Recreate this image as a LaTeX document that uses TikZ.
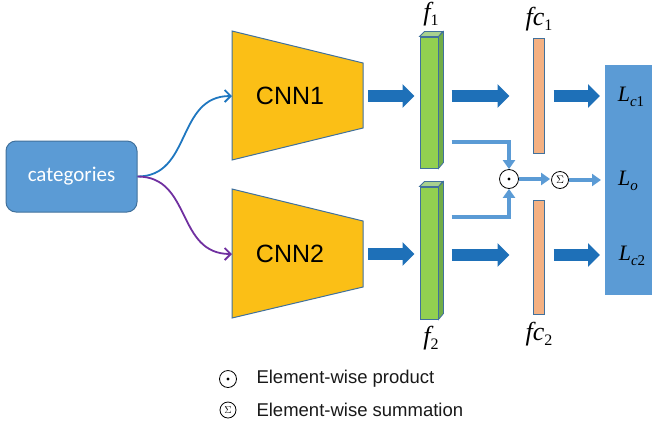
\documentclass[tikz,border=0pt]{standalone}
\usepackage{fontspec}
\setmainfont{Liberation Sans}
\newfontfamily\tnr{Liberation Serif}
\newfontfamily\calib{Carlito}
\usetikzlibrary{arrows.meta}
\definecolor{cnnY}{HTML}{FBBF16}
\definecolor{bord}{HTML}{41719C}
\definecolor{fatB}{HTML}{1E70B8}
\definecolor{thinB}{HTML}{5B9BD5}
\definecolor{boxB}{HTML}{5B9BD5}
\definecolor{grF}{HTML}{92D050}
\definecolor{grS}{HTML}{70AD47}
\definecolor{grT}{HTML}{A9D18E}
\definecolor{orF}{HTML}{F4B183}
\definecolor{curveB}{HTML}{1F77C0}
\definecolor{curveP}{HTML}{7030A0}
\tikzset{
  fat/.style={draw=fatB, line width=12pt, -{Triangle[length=12pt,width=23pt]}},
  thinarr/.style={draw=thinB, line width=3.5pt, -{Triangle[length=9pt,width=12pt]}},
  cnnbox/.style={draw=bord, line width=1pt, fill=cnnY},
  cnntext/.style={font=\fontsize{25}{25}\selectfont},
  barfront/.style={draw=bord, line width=1pt, fill=grF, minimum width=18pt, inner sep=0pt},
  barside/.style={draw=bord, line width=0.8pt, fill=grS},
  bartop/.style={draw=bord, line width=0.8pt, fill=grT},
  fcbar/.style={draw=bord, line width=1pt, fill=orF, minimum width=11pt, inner sep=0pt},
  opcirc/.style={circle, draw=black, line width=0.8pt, fill=white, inner sep=0pt},
  curve/.style={line width=1.8pt, -{Straight Barb[length=6pt,width=12pt]}},
  lossl/.style={font=\tnr\fontsize{22}{22}\selectfont\itshape},
  flabel/.style={font=\tnr\fontsize{26}{26}\selectfont\itshape},
  legtext/.style={anchor=west, font=\fontsize{18.5}{18.5}\selectfont, text=black!90},
}
\newcommand\lowsub[1]{\raisebox{-5pt}{\fontsize{16}{16}\selectfont #1}}
\newcommand\lowsubs[1]{\raisebox{-5pt}{\fontsize{15}{15}\selectfont #1}}
\begin{document}
\begin{tikzpicture}[x=1pt,y=-1pt]
\useasboundingbox (0,0) rectangle (652,432);
% categories
\node[draw=bord, line width=1pt, fill=boxB, rounded corners=10pt, minimum width=131pt, minimum height=71pt, text=white, font=\calib\fontsize{21}{21}\selectfont] (cat) at (71.5,176.5) {categories};
% CNN trapezoids
\draw[cnnbox] (232,31) -- (363,63) -- (363,128) -- (232,160) -- cycle;
\node[cnntext] (cnn1) at (290,96) {CNN1};
\coordinate (cnn1w) at (232,96);
\coordinate (cnn1e) at (363,96);
\draw[cnnbox] (232,189) -- (363,221) -- (363,287) -- (232,318) -- cycle;
\node[cnntext] (cnn2) at (290,254) {CNN2};
\coordinate (cnn2w) at (232,254);
\coordinate (cnn2e) at (363,254);
% curves
\draw[curve, curveB] (cat.east) .. controls (192,176.5) and (176,96) .. (cnn1w);
\draw[curve, curveP] (cat.east) .. controls (192,176.5) and (176,254) .. (cnn2w);
% green bars
\node[barfront, minimum height=131pt] (f1) at (429,102.5) {};
\draw[barside] (f1.north east) -- ++(5,-5) -- ++(0,131) -- (f1.south east) -- cycle;
\draw[bartop] (f1.north west) -- ++(5,-5) -- ++(18,0) -- (f1.north east) -- cycle;
\node[barfront, minimum height=132pt] (f2) at (429,253) {};
\draw[barside] (f2.north east) -- ++(5,-5) -- ++(0,132) -- (f2.south east) -- cycle;
\draw[bartop] (f2.north west) -- ++(5,-5) -- ++(18,0) -- (f2.north east) -- cycle;
\node[flabel] (f1l) at (431,14) {f\lowsub{\upshape 1}};
\node[flabel] (f2l) at (431,338) {f\lowsub{\upshape 2}};
% fc bars
\node[fcbar, minimum height=115pt] (fc1) at (538.5,95.5) {};
\node[fcbar, minimum height=114pt] (fc2) at (538.5,257) {};
\node[flabel] (fc1l) at (539,19) {fc\lowsub{\upshape 1}};
\node[flabel] (fc2l) at (539,334) {fc\lowsub{\upshape 2}};
% loss box
\node[fill=boxB, minimum width=50pt, minimum height=230pt, anchor=north west, inner sep=0pt] (L) at (605,65) {};
\node[lossl] (lc1) at (631,97) {L\lowsubs{c\upshape 1}};
\node[lossl] (lo) at (628,181) {L\lowsubs{o}};
\node[lossl] (lc2) at (632,256) {L\lowsubs{c\upshape 2}};
% fat arrows
\draw[fat, shorten >=5pt] ([xshift=5pt]cnn1e) -- (f1.west |- cnn1e);
\draw[fat, shorten >=5pt] ([xshift=5pt]cnn2e) -- (f2.west |- cnn2e);
\draw[fat, shorten >=23pt] ([xshift=13pt]f1.east |- cnn1e) -- (fc1.west |- cnn1e);
\draw[fat, shorten >=23pt] ([xshift=13pt]f2.east |- 0,255) -- (fc2.west |- 0,255);
\draw[fat, shorten >=5pt] ([xshift=9pt]fc1.east |- cnn1e) -- (L.west |- cnn1e);
\draw[fat, shorten >=5pt] ([xshift=9pt]fc2.east |- 0,255) -- (L.west |- 0,255);
% operators
\node[opcirc, minimum size=19pt] (od) at (509,179) {};
\fill (od.center) circle (1.7pt);
\node[opcirc, minimum size=17pt, font=\tnr\fontsize{11}{11}\selectfont] (sg) at (560,180) {$\Sigma$};
% thin arrows
\draw[thinarr] ([xshift=13pt]f1.east |- 0,142) -| (od.north);
\draw[thinarr] ([xshift=13pt]f2.east |- 0,217) -| (od.south);
\draw[thinarr, shorten >=1pt] (od.east) -- (sg.west |- od.east);
\draw[thinarr, shorten >=4pt] (sg.east) -- (L.west |- sg.east);
% legend
\node[opcirc, minimum size=17pt] (lgod) at (228,379) {};
\fill (lgod.center) circle (1.6pt);
\node[opcirc, minimum size=16pt, font=\tnr\fontsize{10}{10}\selectfont] (lgsg) at (228,410) {$\Sigma$};
\node[legtext] (t1) at (253,379) {Element-wise product};
\node[legtext] (t2) at (253,410) {Element-wise summation};
\end{tikzpicture}
\end{document}
